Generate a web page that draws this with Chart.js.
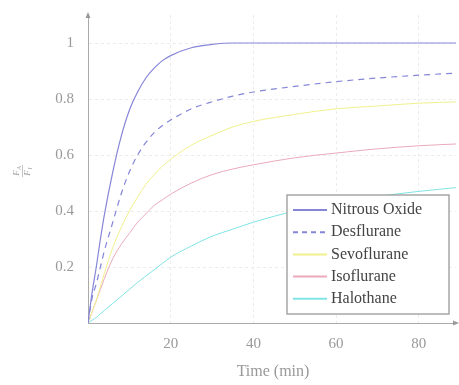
<!DOCTYPE html>
<html>
<head>
<meta charset="utf-8">
<script src="https://cdn.jsdelivr.net/npm/chart.js@4"></script>
<style>
  body { margin: 0; background: #fff; }
  canvas { display: block; }
</style>
</head>
<body>
<canvas id="uptake" width="459" height="385"></canvas>
<script>
// time in minutes
const times = [0, 1, 2, 3, 4, 6, 8, 10, 12, 14, 16, 18, 20, 25, 30, 35, 40, 50, 60, 70, 80, 90];

const nitrousOxide = [0, 0.11, 0.2, 0.3, 0.39, 0.54, 0.665, 0.76, 0.825, 0.875, 0.91, 0.937, 0.955, 0.983, 0.995, 1, 1, 1, 1, 1, 1, 1];
const desflurane   = [0, 0.09, 0.14, 0.2, 0.26, 0.36, 0.46, 0.54, 0.6, 0.645, 0.68, 0.705, 0.725, 0.765, 0.79, 0.81, 0.825, 0.845, 0.862, 0.875, 0.885, 0.893];
const sevoflurane  = [0, 0.04, 0.08, 0.13, 0.18, 0.27, 0.34, 0.40, 0.45, 0.495, 0.53, 0.56, 0.585, 0.635, 0.67, 0.70, 0.72, 0.745, 0.765, 0.775, 0.785, 0.79];
const isoflurane   = [0, 0.04, 0.08, 0.12, 0.16, 0.23, 0.28, 0.32, 0.36, 0.39, 0.42, 0.44, 0.46, 0.50, 0.53, 0.55, 0.565, 0.59, 0.607, 0.622, 0.633, 0.64];
const halothane    = [0, 0.01, 0.02, 0.033, 0.045, 0.07, 0.095, 0.12, 0.145, 0.168, 0.19, 0.213, 0.235, 0.275, 0.31, 0.335, 0.36, 0.40, 0.43, 0.452, 0.47, 0.485];

const seriesNames = ['Nitrous Oxide', 'Desflurane', 'Sevoflurane', 'Isoflurane', 'Halothane'];
const xTicks = [20, 40, 60, 80];
const yTicks = [0.2, 0.4, 0.6, 0.8, 1];

const colors = ['#8686d8', '#8686d8', '#f0f08c', '#eaaabb', '#80e4e4'];
const serif = '"Liberation Serif", "DejaVu Serif", serif';

function toPoints(arr) {
  return times.map((t, i) => ({ x: t, y: arr[i] }));
}

// legend box, axis arrows and axis titles drawn by hand (pgfplots look)
const extras = {
  id: 'extras',
  afterDraw(chart) {
    const ctx = chart.ctx;
    const a = chart.chartArea;
    ctx.save();

    // arrows
    ctx.fillStyle = '#999';
    ctx.beginPath();
    ctx.moveTo(a.left, a.top - 3);
    ctx.lineTo(a.left - 2.5, a.top + 3);
    ctx.lineTo(a.left + 2.5, a.top + 3);
    ctx.fill();
    ctx.beginPath();
    ctx.moveTo(a.right + 3, a.bottom);
    ctx.lineTo(a.right - 3, a.bottom - 2.5);
    ctx.lineTo(a.right - 3, a.bottom + 2.5);
    ctx.fill();

    // x title
    ctx.fillStyle = '#999';
    ctx.font = '16px ' + serif;
    ctx.textAlign = 'center';
    ctx.textBaseline = 'middle';
    ctx.fillText('Time (min)', 273, 372);

    // y title: F_A / F_I as a fraction, rotated
    ctx.translate(22, 172);
    ctx.rotate(-Math.PI / 2);
    ctx.font = 'italic 9px ' + serif;
    ctx.fillText('F', -1, -5);
    ctx.fillText('F', -1, 6);
    ctx.font = 'italic 6px ' + serif;
    ctx.fillText('A', 4, -3);
    ctx.fillText('I', 3.5, 8);
    ctx.strokeStyle = '#aaa';
    ctx.lineWidth = 0.7;
    ctx.beginPath();
    ctx.moveTo(-5, 0.5);
    ctx.lineTo(7, 0.5);
    ctx.stroke();
    ctx.setTransform(1, 0, 0, 1, 0, 0);

    // legend
    const bx = 287, by = 195, bw = 162, bh = 119;
    ctx.fillStyle = '#fff';
    ctx.fillRect(bx, by, bw, bh);
    ctx.strokeStyle = '#999';
    ctx.lineWidth = 1.3;
    ctx.strokeRect(bx, by, bw, bh);
    ctx.font = '16px ' + serif;
    ctx.textAlign = 'left';
    seriesNames.forEach((name, i) => {
      const y = 210 + i * 22.2;
      ctx.strokeStyle = colors[i];
      ctx.lineWidth = 2;
      ctx.setLineDash(i === 1 ? [5, 4] : []);
      ctx.beginPath();
      ctx.moveTo(293, y);
      ctx.lineTo(327, y);
      ctx.stroke();
      ctx.fillStyle = '#444';
      ctx.fillText(name, 331, y);
    });
    ctx.restore();
  }
};

const data = [nitrousOxide, desflurane, sevoflurane, isoflurane, halothane];

new Chart(document.getElementById('uptake'), {
  type: 'line',
  data: {
    datasets: data.map((arr, i) => ({
      label: seriesNames[i],
      data: toPoints(arr),
      borderColor: colors[i],
      borderWidth: i < 2 ? 1.2 : 1,
      borderDash: i === 1 ? [6, 5] : [],
      pointRadius: 0,
      cubicInterpolationMode: 'monotone',
      fill: false
    }))
  },
  options: {
    responsive: false,
    animation: false,
    layout: { padding: { top: 15, right: 3, left: 0, bottom: 0 } },
    plugins: { legend: { display: false }, tooltip: { enabled: false } },
    scales: {
      x: {
        type: 'linear',
        min: 0,
        max: 89,
        afterBuildTicks(s) { s.ticks = xTicks.map(v => ({ value: v })); },
        afterFit(s) { s.height = 62; },
        grid: { color: '#ececec', drawTicks: false },
        border: { color: '#aaa', width: 1, dash: [3, 3] },
        ticks: { color: '#999', font: { family: serif, size: 15 }, padding: 12, maxRotation: 0 }
      },
      y: {
        min: 0,
        max: 1.1,
        afterBuildTicks(s) { s.ticks = yTicks.map(v => ({ value: v })); },
        afterFit(s) { s.width = 88; s.paddingTop = 0; s.paddingBottom = 0; },
        grid: { color: '#ececec', drawTicks: false },
        border: { color: '#aaa', width: 1, dash: [3, 3] },
        ticks: {
          color: '#999',
          font: { family: serif, size: 15, lineHeight: 0.6 },
          padding: 14,
          callback: v => String(v)
        }
      }
    }
  },
  plugins: [extras]
});
</script>
</body>
</html>
